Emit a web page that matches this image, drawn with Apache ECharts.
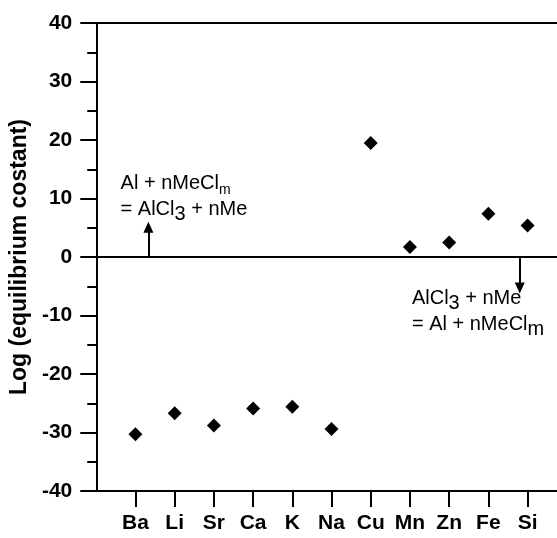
<!DOCTYPE html>
<html>
<head>
<meta charset="utf-8">
<script src="https://cdn.jsdelivr.net/npm/echarts@6/dist/echarts.min.js"></script>
<style>
html,body{margin:0;padding:0;background:#fff;}
#chart{width:557px;height:538px;}
</style>
</head>
<body>
<div id="chart"></div>
<script>
// Data
const categories = ['Ba', 'Li', 'Sr', 'Ca', 'K', 'Na', 'Cu', 'Mn', 'Zn', 'Fe', 'Si'];
const logK = [-30.3, -26.7, -28.8, -25.9, -25.6, -29.4, 19.5, 1.7, 2.5, 7.4, 5.4];
const catPositions = [1, 2, 3, 4, 5, 6, 7, 8, 9, 10, 11];
const yTickValues = [-40, -30, -20, -10, 0, 10, 20, 30, 40];
const arrowUp = [[1.33, 0], [1.33, 5.1]];
const arrowDown = [[10.8, 0], [10.8, -5.3]];

const FONT = 'Arial, "Liberation Sans", Helvetica, sans-serif';
const chart = echarts.init(document.getElementById('chart'), null, {renderer: 'canvas'});

const option = {
  animation: false,
  backgroundColor: '#fff',
  grid: {left: 96, right: 0, top: 23, bottom: 47},
  xAxis: [{
    type: 'value',
    min: 0,
    max: 11.75,
    axisLine: {show: true, onZero: false, lineStyle: {color: '#000', width: 2}},
    axisTick: {show: true, inside: false, length: 16, customValues: catPositions, lineStyle: {color: '#000', width: 2}},
    axisLabel: {
      show: true, customValues: catPositions, margin: 22,
      color: '#000', fontSize: 21, fontWeight: 'bold', fontFamily: FONT,
      formatter: function (v) { return categories[Math.round(v) - 1] || ''; }
    },
    splitLine: {show: false}
  }, {
    type: 'value',
    position: 'top',
    min: 0,
    max: 11.75,
    axisLine: {show: true, onZero: false, lineStyle: {color: '#000', width: 2}},
    axisTick: {show: false},
    axisLabel: {show: false},
    splitLine: {show: false}
  }],
  yAxis: {
    type: 'value',
    min: yTickValues[0],
    max: yTickValues[yTickValues.length - 1],
    interval: 10,
    name: 'Log (equilibrium costant)',
    nameLocation: 'middle',
    nameRotate: 90,
    nameGap: 60,
    nameTextStyle: {color: '#000', fontSize: 23, fontWeight: 'bold', fontFamily: FONT},
    axisLine: {show: true, onZero: false, lineStyle: {color: '#000', width: 2}},
    axisTick: {show: true, inside: false, length: 16, lineStyle: {color: '#000', width: 2}},
    minorTick: {show: true, splitNumber: 2, length: 9, lineStyle: {color: '#000', width: 2}},
    axisLabel: {color: '#000', fontSize: 21, fontWeight: 'bold', fontFamily: FONT, margin: 24},
    splitLine: {show: false},
    minorSplitLine: {show: false}
  },
  series: [{
    type: 'scatter',
    xAxisIndex: 0,
    symbol: 'diamond',
    symbolSize: 14,
    itemStyle: {color: '#000', opacity: 1},
    data: logK.map((v, i) => [catPositions[i], v]),
    markLine: {
      silent: true,
      symbol: 'none',
      label: {show: false},
      lineStyle: {color: '#000', width: 2, type: 'solid'},
      data: [{yAxis: 0}]
    },
    z: 5
  }, {
    type: 'line',
    xAxisIndex: 0,
    data: [],
    markLine: {
      silent: true,
      symbol: ['none', 'triangle'],
      symbolSize: [10, 11],
      label: {show: false},
      lineStyle: {color: '#000', width: 2, type: 'solid'},
      data: [
        [{coord: arrowUp[0]}, {coord: arrowUp[1]}],
        [{coord: arrowDown[0]}, {coord: arrowDown[1]}]
      ]
    }
  }]
};
chart.setOption(option);

const rich = {
  n: {fontSize: 20, fontFamily: FONT, color: '#000', verticalAlign: 'top', lineHeight: 26},
  s: {fontSize: 14, fontFamily: FONT, color: '#000', verticalAlign: 'top', lineHeight: 26, padding: [9, 0, 0, 0]},
  b: {fontSize: 20, fontFamily: FONT, color: '#000', verticalAlign: 'top', lineHeight: 26, padding: [5, 0, 0, 0]}
};
const p1 = chart.convertToPixel({gridIndex: 0}, [0.62, 14.2]);
const p2 = chart.convertToPixel({gridIndex: 0}, [8.05, -5.4]);
chart.setOption({
  graphic: [{
    type: 'text', left: p1[0], top: p1[1], z: 10,
    style: {text: '{n|Al + nMeCl}{s|m}\n{n|= AlCl}{b|3}{n| + nMe}', rich: rich}
  }, {
    type: 'text', left: p2[0], top: p2[1], z: 10,
    style: {text: '{n|AlCl}{b|3}{n| + nMe}\n{n|= Al + nMeCl}{b|m}', rich: rich}
  }]
});
</script>
</body>
</html>
